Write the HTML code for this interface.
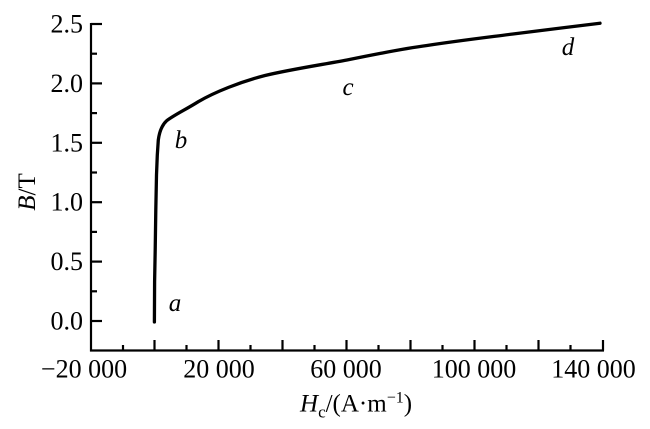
<!DOCTYPE html>
<html>
<head>
<meta charset="utf-8">
<style>
  html,body{margin:0;padding:0;background:#fff;}
  svg{display:block;font-family:"Liberation Serif","Times New Roman",serif;}
  svg text{font-family:"Liberation Serif","Times New Roman",serif;fill:#000;}
</style>
</head>
<body>
<svg width="650" height="429" viewBox="0 0 650 429" xmlns="http://www.w3.org/2000/svg" font-family="Liberation Serif, serif">
  <!-- axes -->
  <g stroke="#000" stroke-width="2.2" fill="none" stroke-linecap="butt">
    <line x1="91" y1="23" x2="91" y2="351.5"/>
    <line x1="90" y1="350.5" x2="604" y2="350.5"/>
    <line x1="91" y1="24" x2="102" y2="24"/>
    <line x1="91" y1="83.4" x2="102" y2="83.4"/>
    <line x1="91" y1="142.8" x2="102" y2="142.8"/>
    <line x1="91" y1="202.2" x2="102" y2="202.2"/>
    <line x1="91" y1="261.6" x2="102" y2="261.6"/>
    <line x1="91" y1="321" x2="102" y2="321"/>
    <line x1="91" y1="53.7" x2="97" y2="53.7"/>
    <line x1="91" y1="113.1" x2="97" y2="113.1"/>
    <line x1="91" y1="172.5" x2="97" y2="172.5"/>
    <line x1="91" y1="231.9" x2="97" y2="231.9"/>
    <line x1="91" y1="291.3" x2="97" y2="291.3"/>
    <line x1="154.5" y1="350.5" x2="154.5" y2="340"/>
    <line x1="218.5" y1="350.5" x2="218.5" y2="340"/>
    <line x1="282.5" y1="350.5" x2="282.5" y2="340"/>
    <line x1="346.5" y1="350.5" x2="346.5" y2="340"/>
    <line x1="410.5" y1="350.5" x2="410.5" y2="340"/>
    <line x1="474.5" y1="350.5" x2="474.5" y2="340"/>
    <line x1="538.5" y1="350.5" x2="538.5" y2="340"/>
    <line x1="603" y1="350.5" x2="603" y2="340"/>
    <line x1="123" y1="350.5" x2="123" y2="345"/>
    <line x1="186.5" y1="350.5" x2="186.5" y2="345"/>
    <line x1="250.5" y1="350.5" x2="250.5" y2="345"/>
    <line x1="314.5" y1="350.5" x2="314.5" y2="345"/>
    <line x1="378.5" y1="350.5" x2="378.5" y2="345"/>
    <line x1="442.5" y1="350.5" x2="442.5" y2="345"/>
    <line x1="506.5" y1="350.5" x2="506.5" y2="345"/>
    <line x1="570.5" y1="350.5" x2="570.5" y2="345"/>
  </g>

  <!-- curve -->
  <path d="M154.4,322 L154.6,282 L155.2,250 L155.8,210 L156.5,175 L157.3,155 L158.3,140 C159.5,131 162,125 166.7,120.7 C175,114.5 185,110 198.3,101.7 C215,92 240,82 265,75.5 C290,69.5 320,65 347,60 C380,53.5 400,49 427,45.5 C460,40.5 490,37 513,34 C545,30 570,27 600,23.2"
        stroke="#000" stroke-width="3.3" fill="none" stroke-linejoin="round" stroke-linecap="round"/>

  <!-- y tick labels -->
  <g font-size="26" text-anchor="end">
    <text x="83" y="32.5">2.5</text>
    <text x="83" y="91.9">2.0</text>
    <text x="83" y="151.3">1.5</text>
    <text x="83" y="210.7">1.0</text>
    <text x="83" y="270.1">0.5</text>
    <text x="83" y="329.5">0.0</text>
  </g>

  <!-- x tick labels -->
  <g font-size="26" text-anchor="middle">
    <text x="84" y="377.5">−20 000</text>
    <text x="219" y="377.5">20 000</text>
    <text x="346" y="377.5">60 000</text>
    <text x="474" y="377.5">100 000</text>
    <text x="593.5" y="377.5">140 000</text>
  </g>

  <!-- axis titles -->
  <text x="300" y="411.5" font-size="25"><tspan font-style="italic">H</tspan><tspan font-size="17" dy="6">c</tspan><tspan dy="-6">/(A·m</tspan><tspan font-size="16" dy="-9">−1</tspan><tspan dy="9">)</tspan></text>
  <text transform="translate(35,192) rotate(-90)" font-size="25" text-anchor="middle"><tspan font-style="italic">B</tspan>/T</text>

  <!-- curve labels -->
  <g font-size="25" font-style="italic" text-anchor="middle">
    <text x="175" y="311">a</text>
    <text x="181" y="148">b</text>
    <text x="348" y="95">c</text>
    <text x="568" y="55">d</text>
  </g>
</svg>
</body>
</html>
